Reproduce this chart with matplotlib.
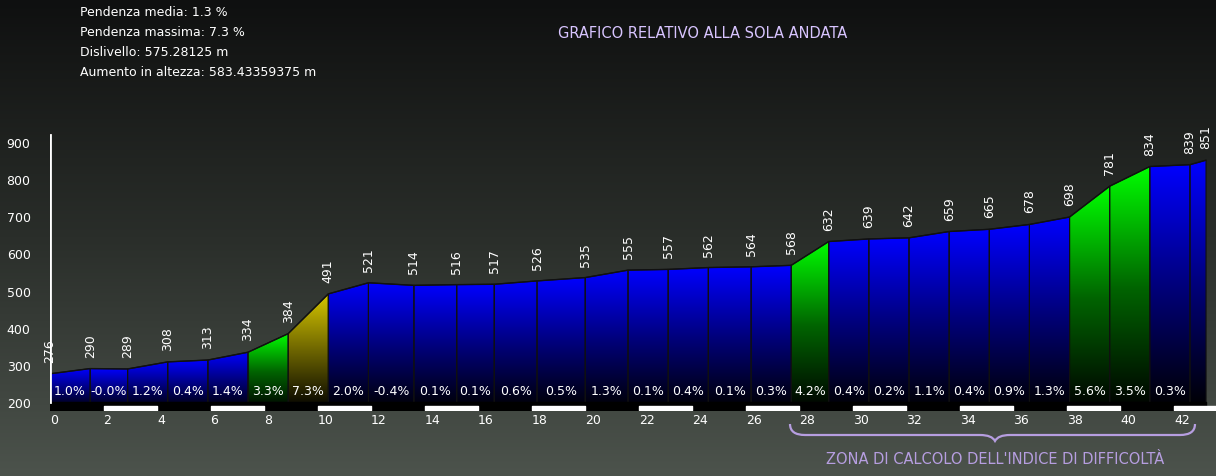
import numpy as np
import matplotlib
matplotlib.use("Agg")
import matplotlib.pyplot as plt
from matplotlib.path import Path
from matplotlib.patches import PathPatch, Polygon
from matplotlib.colors import LinearSegmentedColormap

# Data
km = [0, 1.5, 2.9, 4.4, 5.9, 7.4, 8.9, 10.4, 11.9, 13.6, 15.2, 16.6, 18.2, 20.0, 21.6,
      23.1, 24.6, 26.2, 27.7, 29.1, 30.6, 32.1, 33.6, 35.1, 36.6, 38.1, 39.6, 41.1, 42.6, 43.2]
elev = [276, 290, 289, 308, 313, 334, 384, 491, 521, 514, 516, 517, 526, 535, 555,
        557, 562, 564, 568, 632, 639, 642, 659, 665, 678, 698, 781, 834, 839, 851]
grad_labels = ["1.0%", "-0.0%", "1.2%", "0.4%", "1.4%", "3.3%", "7.3%", "2.0%", "-0.4%", "0.1%",
               "0.1%", "0.6%", "0.5%", "1.3%", "0.1%", "0.4%", "0.1%", "0.3%", "4.2%", "0.4%",
               "0.2%", "1.1%", "0.4%", "0.9%", "1.3%", "5.6%", "3.5%", "0.3%", ""]
grad_vals = [1.0, -0.0, 1.2, 0.4, 1.4, 3.3, 7.3, 2.0, -0.4, 0.1, 0.1, 0.6, 0.5, 1.3, 0.1, 0.4,
             0.1, 0.3, 4.2, 0.4, 0.2, 1.1, 0.4, 0.9, 1.3, 5.6, 3.5, 0.3, 0.3]
yticks = [200, 300, 400, 500, 600, 700, 800, 900]
xticks = list(range(0, 44, 2))
stats = ["Pendenza media: 1.3 %", "Pendenza massima: 7.3 %", "Dislivello: 575.28125 m",
         "Aumento in altezza: 583.43359375 m"]
title = "GRAFICO RELATIVO ALLA SOLA ANDATA"
zone = "ZONA DI CALCOLO DELL'INDICE DI DIFFICOLTÀ"

W, H = 1216, 477
fig = plt.figure(figsize=(W/100, H/100), dpi=100)

# background overlay in pixel coordinates
bg = fig.add_axes([0, 0, 1, 1])
bg.set_xlim(0, W); bg.set_ylim(H, 0); bg.axis("off")
grad = np.linspace(0, 1, 256).reshape(-1, 1)
bgcmap = LinearSegmentedColormap.from_list("bg", ["#0f1010", "#2a2e2a", "#4c534c"])
bg.imshow(grad, extent=[0, W, H, 0], cmap=bgcmap, aspect="auto", zorder=0)
for i, s in enumerate(stats):
    bg.text(80, 13 + 20*i, s, color="white", fontsize=9, va="center", ha="left")
bg.text(703, 33, title, color="#d8c4ff", fontsize=10.5, ha="center", va="center")
bg.text(995, 460, zone, color="#b69ee0", fontsize=10.5, ha="center", va="center")
# curly brace
x0, x1, xm, yt, yb = 790, 1195, 995, 425, 442
verts = [(x0, yt), (x0, yb-6), (x0+15, yb-6), (x0+25, yb-6), (xm-15, yb-6), (xm-3, yb-6), (xm, yb),
         (xm+3, yb-6), (xm+15, yb-6), (x1-25, yb-6), (x1-15, yb-6), (x1, yb-6), (x1, yt)]
codes = [Path.MOVETO, Path.CURVE3, Path.CURVE3, Path.LINETO, Path.LINETO, Path.CURVE3, Path.CURVE3,
         Path.CURVE3, Path.CURVE3, Path.LINETO, Path.LINETO, Path.CURVE3, Path.CURVE3]
bg.add_patch(PathPatch(Path(verts, codes), fill=False, ec="#b69ee0", lw=1.6))

# main axes
pxkm = 26.76
ppm = 260/700
xmax = (W - 50)/pxkm
ybot = 200 - 8/ppm
ytop = 200 + (403-135)/ppm
ax = fig.add_axes([50/W, (H-411)/H, (W-50)/W, (411-135)/H])
ax.patch.set_alpha(0)
ax.set_xlim(0, xmax); ax.set_ylim(ybot, ytop)
for s in ax.spines.values():
    s.set_visible(False)
ax.plot([0, 0], [200, ytop-3], color="white", lw=2, zorder=5)

cmaps = {
    "blue": LinearSegmentedColormap.from_list("b", ["#000000", "#00007a", "#0000ff"]),
    "green": LinearSegmentedColormap.from_list("g", ["#000000", "#006400", "#00ff00"]),
    "yellow": LinearSegmentedColormap.from_list("y", ["#000000", "#6b6300", "#d8c800"]),
}
def col(g):
    if g >= 7: return "yellow"
    if g >= 3: return "green"
    return "blue"

for i in range(len(km)-1):
    xa, xb = km[i], km[i+1]
    ya, yb_ = elev[i], elev[i+1]
    poly = Polygon([(xa, ybot), (xa, ya), (xb, yb_), (xb, ybot)], closed=True,
                   fc="none", ec="#101010", lw=0.8, zorder=3)
    ax.add_patch(poly)
    im = ax.imshow(np.linspace(1, 0, 256).reshape(-1, 1), cmap=cmaps[col(grad_vals[i])],
                   extent=[xa, xb, ybot, max(ya, yb_)], aspect="auto", zorder=2, vmin=0, vmax=1)
    im.set_clip_path(poly)
    if grad_labels[i]:
        ax.text((xa+xb)/2, 232, grad_labels[i], color="white", fontsize=9, ha="center", va="center", zorder=6)
ax.plot(km, elev, color="#111111", lw=1, zorder=4)
for x, e in zip(km, elev):
    ax.text(x, e + 12/ppm, str(e), rotation=90, color="white", fontsize=9,
            ha="center", va="bottom", zorder=6)

# black strip and distance bars
ax.fill_between([0, km[-1]], ybot, 200, color="black", zorder=4)
for k in range(2, 44, 4):
    ax.fill_between([k, min(k+2, xmax)], ybot, ybot + 4/ppm, color="white", zorder=5)
ax.set_xticks(xticks)
ax.set_xticklabels([str(t) for t in xticks], color="white", fontsize=9)
ax.set_yticks(yticks)
ax.set_yticklabels([str(t) for t in yticks], color="white", fontsize=9)
ax.tick_params(length=0, pad=2)
ax.tick_params(axis="y", pad=14)
for lab in ax.get_xticklabels():
    lab.set_horizontalalignment("left")

fig.savefig("out.png", dpi=100)
